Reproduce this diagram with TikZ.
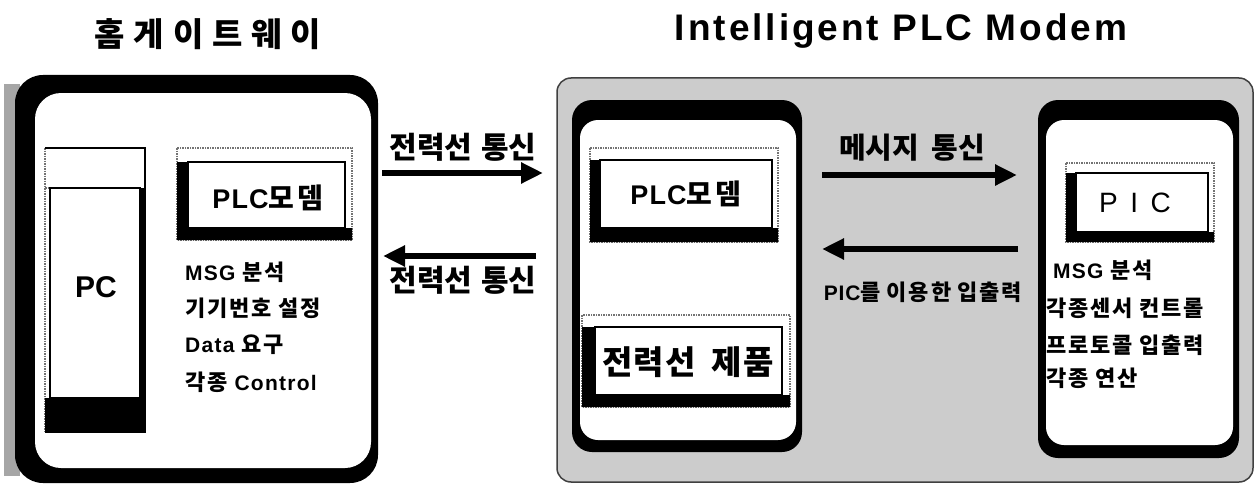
\documentclass[tikz,border=0pt]{standalone}
\usepackage{fontspec}
\setmainfont{Liberation Sans}
\newfontfamily\kr{Noto Sans CJK KR}
\usetikzlibrary{arrows.meta}
\newcommand\korb[2][0]{{\kr\bfseries\addfontfeature{LetterSpace=#1}#2}}
\newcommand\mkshadowbox[8]{%
  \fill[white] (#1,#2) rectangle (#3,#4);
  \draw[black!55, densely dotted, line width=1.5] (#1,#2) rectangle (#3,#4);
  \fill[black] (#1,#6) -- (#5,#6) -- (#5,#8) -- (#3,#8) -- (#3,#4) -- (#1,#4) -- cycle;
  \draw[line width=1.5] (#5,#6) rectangle (#7,#8);
}
\newcommand\lk[1]{{\fontsize{22}{24}\selectfont\korb[8]{#1}}}
\begin{document}
\begin{tikzpicture}[x=1pt,y=-1pt,
  txt/.style={inner sep=0pt},
  lst/.style={inner sep=0pt, anchor=west, font=\fontsize{21}{23}\selectfont\bfseries\addfontfeature{LetterSpace=6}},
  arr/.style={line width=6pt, -{Triangle[length=22pt,width=20pt]}},
  arrlbl/.style={inner sep=0pt, font=\fontsize{30}{32}\selectfont}
]
\useasboundingbox (0,0) rectangle (1256,487);
\fill[white] (0,0) rectangle (1256,487);

% titles
\node[txt, font=\fontsize{33}{35}\selectfont] (t1) at (208,34) {\korb[27]{홈게이트웨이}};
\node[txt, anchor=base, font=\fontsize{37}{39}\selectfont\bfseries\addfontfeature{LetterSpace=8}] (t2) at (901,41) {Intelligent PLC Modem};

% ===== left device (home gateway)
\fill[black!35] (4,84) rectangle (20,476);
\fill[black, rounded corners=28pt] (15,75) rectangle (378,483);
\fill[white, rounded corners=26pt] (35,93) rectangle (371,468);

% PC box
\fill[white] (45,148) rectangle (145,433);
\draw[black!55, densely dotted, line width=1.5] (45,148) -- (45,433);
\draw[line width=1.5] (45,148) -- (145,148) -- (145,433);
\draw[black!55, densely dotted, line width=1.5] (45,188) -- (140,188);
\fill (45,398) rectangle (145,433);
\fill (140,188) rectangle (145,433);
\draw[line width=1.5] (50,188) rectangle (140,398);
\node[txt, font=\fontsize{30}{32}\selectfont\bfseries] (pc) at (96,287) {PC};

% PLC modem box (left)
\mkshadowbox{177}{148}{352}{240}{188}{162}{345}{228}
\node[txt, font=\fontsize{27}{29}\selectfont\bfseries\addfontfeature{LetterSpace=4}] (m1) at (268,198) {PLC{\fontsize{28}{30}\selectfont\korb[12]{모뎀}}};

\node[lst] (l1) at (185,272) {MSG \lk{분석}};
\node[lst] (l2) at (185,308) {\lk{기기번호 설정}};
\node[lst] (l3) at (185,345) {Data \lk{요구}};
\node[lst] (l4) at (185,382) {\lk{각종} Control};

% power-line arrows
\coordinate (a1s) at (382,173);
\coordinate (a1e) at (543,173);
\coordinate (a2s) at (536,256);
\coordinate (a2e) at (383,256);
\draw[arr] (a1s) -- (a1e);
\draw[arr] (a2s) -- (a2e);
\node[arrlbl] (p1) at (463,147) {\korb{전력선\hspace{9pt}통신}};
\node[arrlbl] (p2) at (463,280) {\korb{전력선\hspace{9pt}통신}};

% ===== right frame (intelligent PLC modem)
\filldraw[fill=black!20, draw=black!75, line width=1.5, rounded corners=14pt] (557,78) rectangle (1253,482);

% modem device
\fill[rounded corners=20pt] (572,100) rectangle (802,452);
\fill[white, rounded corners=18pt] (580,120) rectangle (796,440);
\mkshadowbox{590}{148}{778}{242}{600}{160}{772}{228}
\node[txt, font=\fontsize{27}{29}\selectfont\bfseries\addfontfeature{LetterSpace=4}] (m2) at (686,194) {PLC{\fontsize{28}{30}\selectfont\korb[12]{모뎀}}};
\mkshadowbox{582}{315}{790}{407}{595}{327}{782}{395}
\node[txt, font=\fontsize{33}{35}\selectfont] (pw) at (688,362) {\korb[3]{전력선\hspace{16pt}제품}};

% PIC device
\fill[rounded corners=20pt] (1038,100) rectangle (1239,458);
\fill[white, rounded corners=18pt] (1046,120) rectangle (1233,445);
\mkshadowbox{1066}{163}{1214}{242}{1076}{173}{1208}{232}
\node[txt, font=\fontsize{28}{30}\selectfont\addfontfeature{LetterSpace=45}] (pic) at (1135,203) {PIC};

\node[lst] (r1) at (1053,270) {MSG \lk{분석}};
\node[lst] (r2) at (1046,308) {\lk{각종센서 컨트롤}};
\node[lst] (r3) at (1046,345) {\lk{프로토콜 입출력}};
\node[lst] (r4) at (1046,378) {\lk{각종 연산}};

% message arrows
\coordinate (b1s) at (822,175);
\coordinate (b1e) at (1017,175);
\coordinate (b2s) at (1018,249);
\coordinate (b2e) at (822,249);
\draw[arr] (b1s) -- (b1e);
\draw[arr] (b2s) -- (b2e);
\node[arrlbl, font=\fontsize{29}{31}\selectfont] (q1) at (912,148) {\korb{메시지\hspace{12pt}통신}};
\node[txt, font=\fontsize{21}{23}\selectfont\bfseries\addfontfeature{LetterSpace=4}] (q2) at (923,292) {PIC{\fontsize{22}{24}\selectfont\korb[9]{를\hspace{6pt}이용한\hspace{6pt}입출력}}};
\end{tikzpicture}
\end{document}
